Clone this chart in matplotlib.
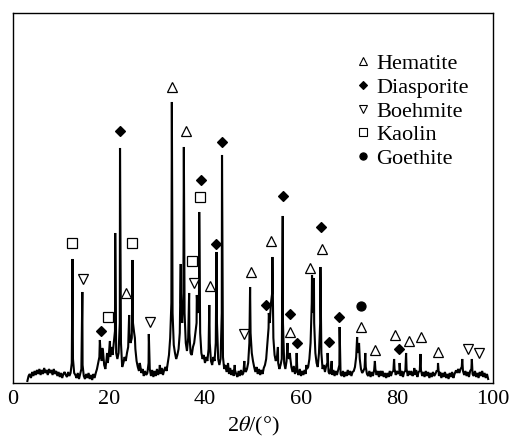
import numpy as np
import matplotlib
matplotlib.use('Agg')
import matplotlib.pyplot as plt
from matplotlib.lines import Line2D

plt.rcParams['font.family'] = ['Liberation Serif', 'DejaVu Serif']
plt.rcParams['mathtext.fontset'] = 'stix'

# background of the pattern, every 0.25 deg from 3 to 99 (arbitrary units)
base_start = 3.0
base_step = 0.25
baseline = [
    2, 7, 9, 5, 11, 7, 12, 8, 13, 9, 14, 8, 13, 9, 15, 10, 13, 8, 14, 10,         # 3
    13, 8, 14, 9, 12, 7, 11, 6, 10, 5, 9, 11, 8, 6, 11, 7, 10, 20, 24, 10,        # 8
    8, 5, 10, 4, 9, 14, 18, 7, 4, 9, 5, 10, 4, 8, 3, 9, 5, 10, 14, 20,            # 13
    26, 30, 22, 32, 18, 14, 24, 20, 30, 26, 36, 28, 40, 52, 30, 24, 30, 60, 40, 16,  # 18
    20, 26, 22, 30, 36, 50, 40, 45, 60, 50, 34, 22, 16, 12, 18, 10, 14, 7, 12, 8,    # 23
    10, 20, 14, 7, 13, 6, 12, 7, 14, 8, 13, 9, 15, 8, 13, 16, 12, 20, 28, 45,        # 28
    80, 70, 38, 30, 24, 28, 34, 50, 80, 60, 90, 70, 40, 32, 45, 50, 30, 28, 36, 40,  # 33
    50, 60, 70, 80, 50, 30, 24, 28, 20, 26, 22, 34, 40, 22, 18, 26, 22, 40, 60, 24,  # 38
    18, 24, 70, 26, 14, 18, 11, 17, 9, 15, 8, 13, 7, 13, 9, 6, 12, 7, 13, 8,        # 43
    10, 16, 11, 14, 20, 40, 50, 30, 22, 16, 11, 16, 9, 14, 8, 13, 9, 15, 18, 24,     # 48
    40, 55, 60, 80, 90, 45, 28, 22, 26, 20, 14, 18, 24, 60, 20, 14, 22, 30, 24, 26,  # 53
    16, 11, 17, 9, 15, 11, 8, 14, 7, 12, 8, 13, 9, 14, 16, 24, 40, 80, 70, 60,      # 58
    30, 20, 16, 30, 60, 30, 14, 18, 11, 17, 20, 11, 9, 15, 8, 13, 7, 12, 8, 13,      # 63
    18, 9, 7, 12, 6, 11, 7, 13, 8, 12, 7, 11, 12, 16, 26, 30, 36, 24, 14, 10,       # 68
    12, 15, 16, 9, 7, 12, 6, 11, 7, 13, 14, 8, 12, 6, 11, 7, 12, 6, 10, 5,           # 73
    10, 6, 12, 7, 11, 12, 14, 8, 12, 9, 12, 7, 12, 6, 11, 12, 14, 7, 12, 8,          # 78
    12, 7, 10, 8, 13, 6, 11, 12, 13, 7, 11, 6, 12, 7, 11, 5, 10, 6, 11, 7,           # 83
    9, 12, 12, 7, 11, 5, 10, 6, 11, 5, 9, 4, 10, 6, 11, 5, 9, 12, 10, 14,            # 88
    10, 14, 16, 12, 8, 12, 7, 11, 6, 12, 14, 9, 7, 12, 6, 10, 5, 11, 7, 12,          # 93
    6, 10, 5, 9, 4,                                                                  # 98
]

# peak tops
peak_pos = [12.4, 14.45, 18.1, 18.6, 19.6, 20.2, 21.3, 22.3, 24.2, 24.9,
            25.4, 26.4, 28.3, 30.6, 33.1, 34.95, 35.6, 36.7, 38.3, 38.8,
            40.9, 42.4, 43.55, 44.8, 46.2, 48.2, 49.4, 53.3, 54.05, 55.2,
            56.2, 57.2, 57.7, 59.1, 61.1, 62.3, 62.7, 64.05, 65.55, 66.4,
            68.05, 71.7, 72.1, 73.4, 75.4, 76.6, 79.4, 80.55, 81.9, 83.6,
            84.9, 88.55, 92.4, 93.6, 95.6]
peak_int = [124, 91, 43, 35, 30, 42, 150, 235, 68, 123,
            45, 20, 49, 18, 281, 119, 236, 90, 88, 171,
            78, 131, 228, 20, 18, 22, 96, 70, 126, 36,
            167, 40, 30, 30, 18, 108, 105, 116, 30, 22,
            56, 46, 40, 30, 22, 12, 24, 20, 30, 15,
            29, 20, 12, 24, 24]

# phase markers (2theta, height)
hem_x = [23.5, 33.1, 36.0, 41.1, 49.6, 53.75, 57.8, 61.9, 64.4, 72.6, 75.5, 79.6, 82.6, 85.1, 88.5]
hem_y = [90, 296, 252, 97, 111, 142, 51, 115, 134, 56, 33, 48, 42, 46, 31]
dia_x = [18.3, 22.3, 39.1, 42.4, 43.5, 52.7, 56.3, 57.8, 59.1, 64.1, 65.9, 67.9, 80.5]
dia_y = [52, 252, 203, 139, 241, 78, 187, 69, 40, 156, 41, 66, 34]
boe_x = [14.5, 28.5, 37.8, 48.2, 94.8, 97.1]
boe_y = [104, 61, 100, 49, 34, 30]
kao_x = [12.4, 19.9, 24.9, 37.4, 39.0]
kao_y = [140, 66, 140, 122, 186]
goe_x = [72.6]
goe_y = [77]

phase_names = ['Hematite', 'Diasporite', 'Boehmite', 'Kaolin', 'Goethite']

base_x = base_start + base_step * np.arange(len(baseline))
xx = np.concatenate([base_x, peak_pos])
yy = np.concatenate([baseline, peak_int])
order = np.argsort(xx)

fig = plt.figure(figsize=(5.11, 4.37), dpi=100)
ax = fig.add_axes([0.0254, 0.1236, 0.9393, 0.8467])
ax.plot(xx[order], yy[order], color='black', lw=1.5, solid_joinstyle='miter')

styles = [
    (hem_x, hem_y, '^', 'white'),
    (dia_x, dia_y, 'D', 'black'),
    (boe_x, boe_y, 'v', 'white'),
    (kao_x, kao_y, 's', 'white'),
    (goe_x, goe_y, 'o', 'black'),
]
handles = []
for (px, py, m, fc), name in zip(styles, phase_names):
    ms = 5.5 if m == 'D' else 6.5
    ax.plot(px, py, m, mfc=fc, mec='black', mew=0.9, ms=ms, ls='none')
    handles.append(Line2D([], [], marker=m, mfc=fc, mec='black', mew=0.8,
                          ms=ms * 0.8, ls='none', label=name))

ax.legend(handles=handles, loc='upper left', bbox_to_anchor=(0.715, 0.89),
          frameon=False, fontsize=16, handlelength=0.6, handletextpad=0.3,
          labelspacing=0.14, borderpad=0, borderaxespad=0)

ax.set_xlim(0, 100)
ax.set_ylim(0, 370)
ax.set_xticks([0, 20, 40, 60, 80, 100])
ax.set_yticks([])
ax.tick_params(axis='x', length=0, labelsize=16, pad=5)
ax.set_xlabel(r'2$\theta$/(°)', fontsize=16, labelpad=4)
for s in ax.spines.values():
    s.set_linewidth(1.0)

fig.savefig('out.png', dpi=100)
